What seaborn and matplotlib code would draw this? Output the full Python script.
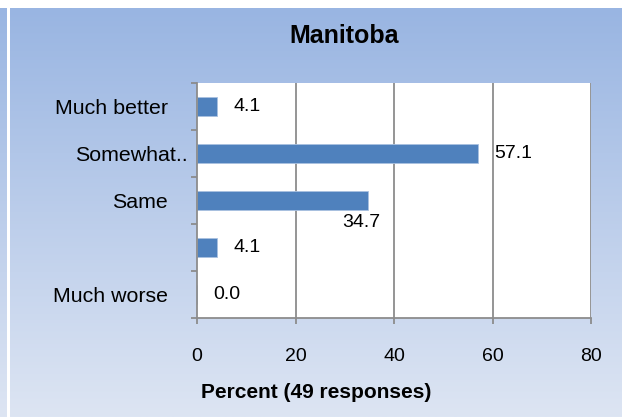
import numpy as np
import pandas as pd
import matplotlib
matplotlib.use("Agg")
import matplotlib.pyplot as plt
import matplotlib.transforms as mtrans
from matplotlib.colors import LinearSegmentedColormap
import seaborn as sns

# ---- data ----
categories = ["Much better", "Somewhat better", "Same", "Somewhat worse", "Much worse"]
display_labels = ["Much better", "Somewhat..", "Same", "", "Much worse"]
values = [4.1, 57.1, 34.7, 4.1, 0.0]
value_labels = ["4.1", "57.1", "34.7", "4.1", "0.0"]
x_ticks = [0, 20, 40, 60, 80]
title = "Manitoba"
x_title = "Percent (49 responses)"

sns.set_theme(style="white")
plt.rcParams["font.family"] = ["Liberation Sans", "DejaVu Sans"]

W, H, DPI = 628, 417, 100
fig = plt.figure(figsize=(W / DPI, H / DPI), dpi=DPI, facecolor="white")

# background gradient panel
bg = fig.add_axes([0, 0, 1, 1], zorder=-5)
bg.set_xlim(0, W)
bg.set_ylim(H, 0)
bg.axis("off")
cmap = LinearSegmentedColormap.from_list("g", ["#99B5E2", "#DDE5F3"])
grad = np.linspace(0, 1, 256).reshape(-1, 1)
bg.imshow(grad, cmap=cmap, aspect="auto", extent=(10, 622, 417, 8), interpolation="bilinear")
bg.imshow(grad, cmap=cmap, aspect="auto", extent=(0, 7, 417, 8), interpolation="bilinear")
bg.set_xlim(0, W)
bg.set_ylim(H, 0)

# main axes
left, right, top, bottom = 197, 591, 83, 318
ax = fig.add_axes([left / W, 1 - bottom / H, (right - left) / W, (bottom - top) / H])
ax.set_facecolor("white")

df = pd.DataFrame({"cat": categories, "val": values})
sns.barplot(data=df, x="val", y="cat", order=categories, orient="h",
            color="#4F81BD", width=0.4, saturation=1, ax=ax,
            edgecolor="#A9C1E0", linewidth=0.6)

ax.set_xlim(0, 80)
ax.set_ylim(4.5, -0.5)
ax.set_xticks(x_ticks)
ax.set_xticklabels([str(t) for t in x_ticks])
ax.set_yticks(range(len(categories)))
ax.set_yticklabels(display_labels)
ax.set_yticks(np.arange(-0.5, len(categories), 1.0), minor=True)
ax.set_xlabel("")
ax.set_ylabel("")

grid_c = "#8C8C8C"
for t in x_ticks[1:]:
    ax.axvline(t, color=grid_c, lw=1.3, zorder=0.5)
for s in ["top", "right"]:
    ax.spines[s].set_visible(False)
for s in ["left", "bottom"]:
    ax.spines[s].set_color(grid_c)
    ax.spines[s].set_linewidth(1.3)

ax.tick_params(axis="y", which="major", length=0, pad=21, labelsize=15.4, labelcolor="black")
ax.tick_params(axis="y", which="minor", length=4.5, width=1.3, color=grid_c, direction="out", left=True)
ax.tick_params(axis="x", which="major", length=4.5, width=1.3, color=grid_c, direction="out",
               bottom=True, pad=17, labelsize=14, labelcolor="black")

# shift truncated label a bit right like the reference
lbl = ax.get_yticklabels()[1]
lbl.set_transform(lbl.get_transform() + mtrans.ScaledTranslation(20 / DPI, 0, fig.dpi_scale_trans))

# value labels
for i, (v, s) in enumerate(zip(values, value_labels)):
    if s == "34.7":
        ax.annotate(s, (v, i), xytext=(-5, -16), textcoords="offset points",
                    ha="center", va="center", fontsize=14, color="black")
    else:
        ax.annotate(s, (v, i), xytext=(11.5, 0), textcoords="offset points",
                    ha="left", va="center", fontsize=14, color="black")

fig.text(344 / W, 1 - 43 / H, title, ha="center", va="baseline",
         fontsize=18, fontweight="bold", color="black")
fig.text(316 / W, 1 - 392 / H, x_title, ha="center", va="center",
         fontsize=15, fontweight="bold", color="black")

fig.savefig("out.png", dpi=DPI, facecolor="white")
